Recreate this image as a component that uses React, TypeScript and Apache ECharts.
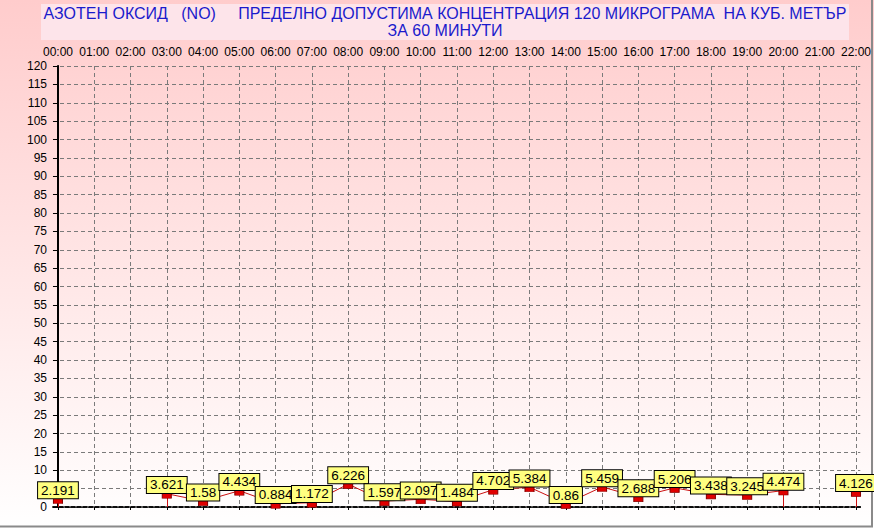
import React, { useEffect, useRef } from "react";
import * as echarts from "echarts";

const hours = [
  "00:00", "01:00", "02:00", "03:00", "04:00", "05:00", "06:00", "07:00",
  "08:00", "09:00", "10:00", "11:00", "12:00", "13:00", "14:00", "15:00",
  "16:00", "17:00", "18:00", "19:00", "20:00", "21:00", "22:00",
];
const values: (number | null)[] = [
  2.191, null, null, 3.621, 1.58, 4.434, 0.884, 1.172, 6.226, 1.597, 2.097,
  1.484, 4.702, 5.384, 0.86, 5.459, 2.688, 5.206, 3.438, 3.245, 4.474, null,
  4.126,
];
const titleLine1 =
  "АЗОТЕН ОКСИД   (NO)     ПРЕДЕЛНО ДОПУСТИМА КОНЦЕНТРАЦИЯ 120 МИКРОГРАМА  НА КУБ. МЕТЪР";
const titleLine2 = "ЗА 60 МИНУТИ";
const yMin = 0;
const yMax = 120;
const yStep = 5;

export default function App() {
  const ref = useRef<HTMLDivElement>(null);
  useEffect(() => {
    if (!ref.current) return;
    const chart = echarts.init(ref.current, null, { renderer: "svg" });
    const idx = hours.map((_, i) => i);
    const xMin = -0.137;
    const xMax = 22.118;
    const drops: any[] = [];
    values.forEach((v, i) => {
      if (v === null) return;
      const prev = i > 0 ? values[i - 1] : null;
      const next = i < values.length - 1 ? values[i + 1] : null;
      if (prev === null || next === null) {
        drops.push([{ coord: [i, 0] }, { coord: [i, v] }]);
      }
    });
    const dashGray = { color: "#7a7a7a", type: [4, 3] as any, width: 1 };
    chart.setOption({
      animation: false,
      backgroundColor: {
        type: "linear", x: 0, y: 0, x2: 0, y2: 1,
        colorStops: [
          { offset: 0, color: "#ffcccc" },
          { offset: 1, color: "#ffffff" },
        ],
      },
      graphic: [
        {
          type: "rect",
          shape: { x: 41, y: 4, width: 808, height: 36 },
          style: { fill: "#fde4ea" },
          z: 0,
        },
        {
          type: "text",
          x: 445,
          y: 5,
          style: {
            text: titleLine1 + "\n" + titleLine2,
            textAlign: "center",
            fill: "#1a1acc",
            font: "16px Arial",
            lineHeight: 17,
          },
          z: 1,
        },
        {
          type: "line",
          shape: { x1: 872, y1: 0, x2: 872, y2: 527 },
          style: { stroke: "#8a8a8a", lineWidth: 2 },
        },
        {
          type: "line",
          shape: { x1: 0, y1: 526.5, x2: 873, y2: 526.5 },
          style: { stroke: "#8a8a8a", lineWidth: 2 },
        },
      ],
      grid: { left: 53, right: 9, top: 66, bottom: 22, containLabel: false },
      xAxis: [
        {
          type: "value",
          position: "top",
          min: xMin,
          max: xMax,
          axisLine: { show: true, lineStyle: { color: "#000", type: [4, 2], width: 1.5 } },
          axisTick: { show: true, inside: true, length: 3, customValues: idx, lineStyle: { color: "#000" } },
          axisLabel: {
            customValues: idx,
            formatter: (v: number) => hours[Math.round(v)] ?? "",
            color: "#000",
            fontSize: 12,
            fontFamily: "Arial",
            margin: 8,
          },
          splitLine: { show: true, lineStyle: dashGray },
        },
        {
          type: "value",
          position: "bottom",
          min: xMin,
          max: xMax,
          axisLine: { show: true, onZero: false, lineStyle: { color: "#000", type: [4, 2], width: 1.5 } },
          axisTick: { show: false },
          axisLabel: { show: false },
          splitLine: { show: false },
        },
      ],
      yAxis: [
        {
          type: "value",
          min: yMin,
          max: yMax,
          interval: yStep,
          axisLine: { show: true, lineStyle: { color: "#000", width: 2 } },
          axisTick: { show: true, length: 5, lineStyle: { color: "#000" } },
          axisLabel: { color: "#000", fontSize: 12, fontFamily: "Arial", margin: 6 },
          splitLine: { show: true, lineStyle: dashGray },
        },
        {
          type: "value",
          position: "right",
          min: yMin,
          max: yMax,
          interval: yStep,
          axisLine: { show: true, lineStyle: { color: "#000", width: 1 } },
          axisTick: { show: false },
          axisLabel: { show: false },
          splitLine: { show: false },
        },
      ],
      series: [
        {
          type: "line",
          xAxisIndex: 0,
          yAxisIndex: 0,
          data: values.map((v, i) => [i, v === null ? "-" : v]),
          connectNulls: false,
          lineStyle: { color: "#cc1111", width: 1 },
          itemStyle: { color: "#e00000", borderColor: "#8a0000", borderWidth: 0.8 },
          symbol: "rect",
          symbolSize: [9, 5],
          symbolOffset: [0, 2],
          showAllSymbol: true,
          label: {
            show: true,
            position: "top",
            distance: 0,
            formatter: (p: any) => String(p.value[1]),
            color: "#000",
            fontSize: 13.5,
            fontFamily: "Arial",
            lineHeight: 14,
            backgroundColor: "#ffff80",
            borderColor: "#000",
            borderWidth: 1,
            padding: [1, 3, 1, 3],
          },
          markLine: {
            silent: true,
            symbol: ["none", "none"],
            label: { show: false },
            lineStyle: { color: "#cc1111", type: "solid", width: 1 },
            data: drops,
          },
          z: 5,
        },
      ],
    });
    return () => chart.dispose();
  }, []);
  return (
    <div
      ref={ref}
      style={{ position: "absolute", left: 0, top: 0, width: 874, height: 529 }}
    />
  );
}
